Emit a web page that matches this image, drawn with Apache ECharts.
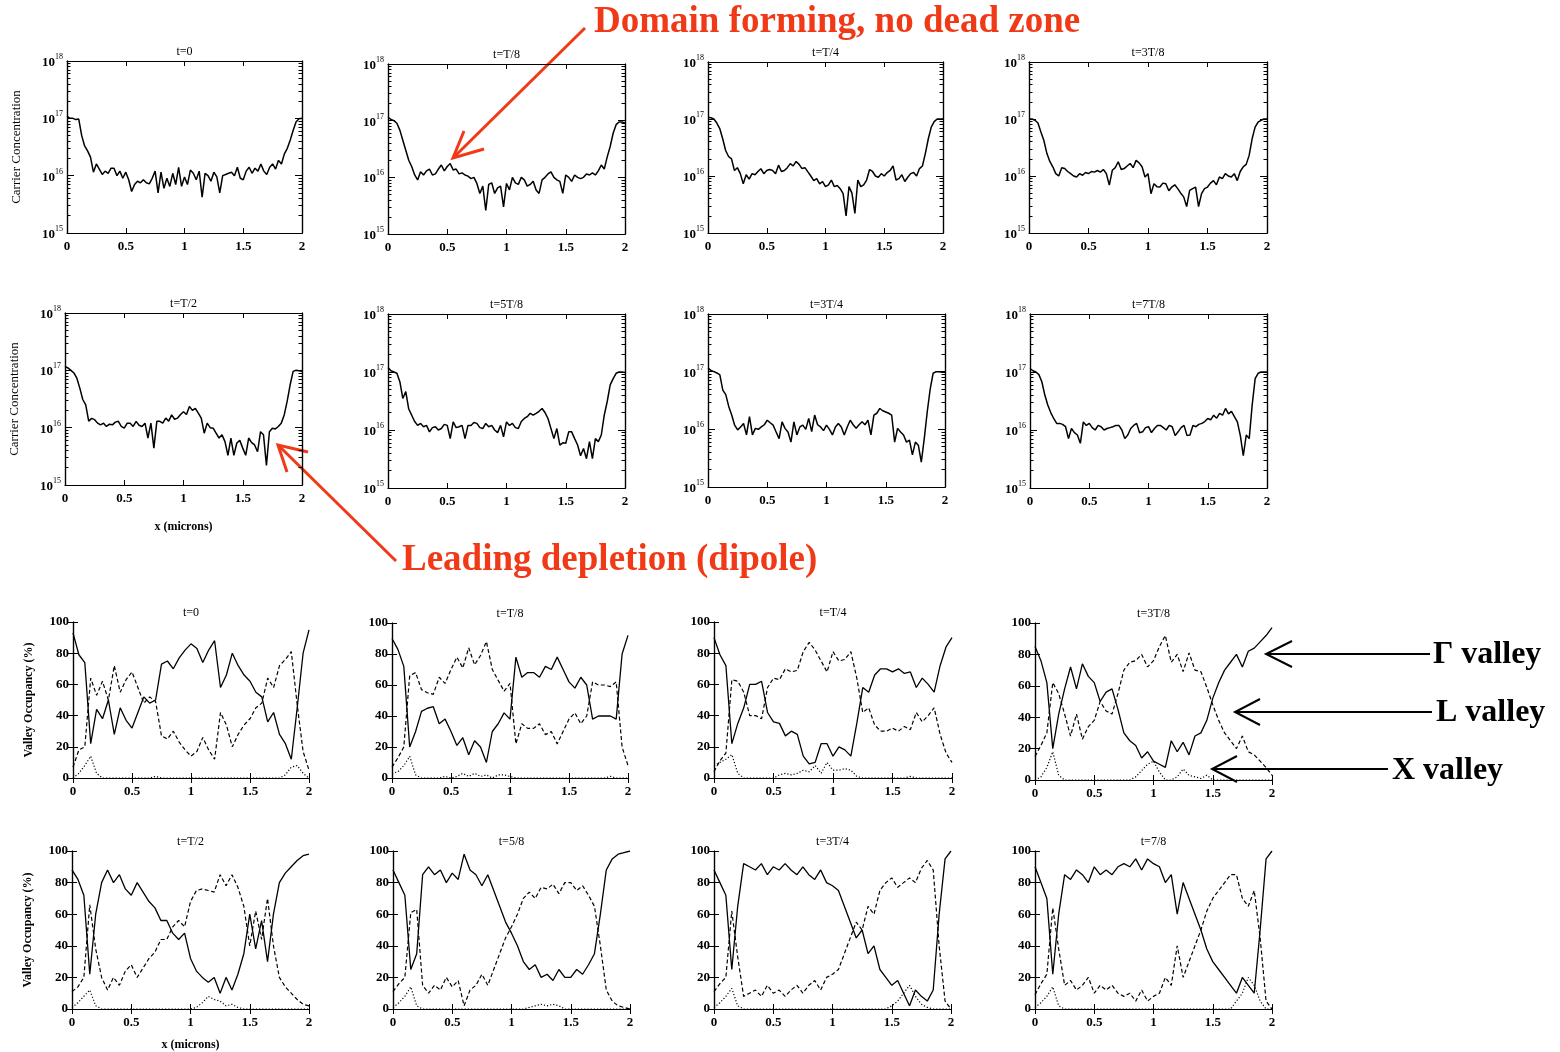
<!DOCTYPE html>
<html>
<head>
<meta charset="utf-8">
<script src="https://cdn.jsdelivr.net/npm/echarts@6/dist/echarts.min.js"></script>
<style>
  html, body { margin: 0; background: #fff; }
  #chart { width: 1560px; height: 1052px; }
</style>
</head>
<body>
<div id="chart"></div>
<script>
const F = '"Liberation Serif", "Times New Roman", serif';
const RED = '#f03a17';

// x positions (microns)
const xsC = [0,0.025,0.05,0.075,0.1,0.125,0.15,0.175,0.2,0.225,
  0.25,0.275,0.3,0.325,0.35,0.375,0.4,0.425,0.45,0.475,
  0.5,0.525,0.55,0.575,0.6,0.625,0.65,0.675,0.7,0.725,
  0.75,0.775,0.8,0.825,0.85,0.875,0.9,0.925,0.95,0.975,
  1,1.025,1.05,1.075,1.1,1.125,1.15,1.175,1.2,1.225,
  1.25,1.275,1.3,1.325,1.35,1.375,1.4,1.425,1.45,1.475,
  1.5,1.525,1.55,1.575,1.6,1.625,1.65,1.675,1.7,1.725,
  1.75,1.775,1.8,1.825,1.85,1.875,1.9,1.925,1.95,1.975,2];
const xsV = [0,0.05,0.1,0.15,0.2,0.25,0.3,0.35,0.4,0.45,
  0.5,0.55,0.6,0.65,0.7,0.75,0.8,0.85,0.9,0.95,
  1,1.05,1.1,1.15,1.2,1.25,1.3,1.35,1.4,1.45,
  1.5,1.55,1.6,1.65,1.7,1.75,1.8,1.85,1.9,1.95,2];

const carrierTitles = ['t=0', 't=T/8', 't=T/4', 't=3T/8', 't=T/2', 't=5T/8', 't=3T/4', 't=7T/8'];
const valleyTitles = ['t=0', 't=T/8', 't=T/4', 't=3T/8', 't=T/2', 't=5/8', 't=3T/4', 't=7/8'];
const carrierExps = [15, 16, 17, 18];

// carrier concentration, units of 1e15
const cT0 = [110,100,100,95,97,50,33,27,21,11.5, 16,13,10.5,12,11,13.5,13.5,10,12,9,
  11.5,8.5,5.3,7,8,7.5,8.5,7.5,7.2,9, 12,5,11.5,6,9,6.5,11,7,14,6.5,
  9.5,7,12.5,11,8.5,12,4.2,11,10,8, 11.5,9.5,5,10,10.5,11,11.5,10,14,9,
  8.5,12,14,11,13.5,12,16,12,10.5,14, 16,13,18.5,16,24,30,42,62,87,98, 100];
const cT8 = [115,105,100,90,68,45,30,20,15.5,11, 9,12.5,11,13,14,11,11.5,14,16.5,13,
  15.5,17.5,13.5,14,11.5,12,11,10.5,9.5,10, 7.8,5.2,7,2.6,7.5,8,5.2,6.5,7,3,
  7.8,6,10,8,7.5,10,9,7,7.5,8.5, 6,5.2,9,10,11.5,12.5,10,9,8.5,5.2,
  11,10,8.5,11,10,9.5,10,11.5,11,12, 11,13,16.5,14,23,35,60,85,95,95, 90];
const cT4 = [107,105,100,85,68,45,28,22,20,12.5, 14,11,7.3,10.5,8.8,11,10.5,12,13.4,11,
  12.5,13,12.5,11,15.5,12,12.5,14,16.5,15, 18,16,13.5,14,11.8,10,8.3,9,7.3,8,
  6.5,7,8.5,6.5,6.8,6,4.9,2.0,6.5,5, 2.2,8.5,6.5,7,8.5,13,12,10,9.5,11,
  10,11.5,12.5,15,8.5,9,10.5,8,9.5,11, 11.5,10,13.5,15,25,45,72,90,100,100, 100];
const c3T8 = [100,100,95,85,59,42,25,18,14.5,11, 10,14,13.5,12,11,10,9.6,11,10.3,11.5,
  11,12,11.7,12.5,11.7,13,11,6.9,12.6,14, 17.8,13,13.5,15,16.6,14,18.8,17,14.5,9.6,
  11,4.9,7.3,6.5,6.4,7.5,7.3,5.5,6.4,7, 6,5,4.3,2.9,5.6,6,6.4,2.9,4.9,6,
  6.4,7.5,8.3,7,9.6,9,11,10,9.6,11, 8.3,12,14.5,16,23,45,72,88,95,100, 100];
const cT2 = [117,110,100,90,73,49,31,25,13,14.5, 13.8,12,11.2,12,10.5,11.5,11.2,12.5,12.9,10.5,
  9.8,12,12,10.5,12.9,11,10.5,12,6.6,12, 4.4,12.9,12.9,12,14.7,13,16.7,14,14.7,17,
  19,17,23.5,20,21.7,18,14.7,8,12,10, 9.8,8,6.6,7.5,5.7,3.3,6.6,3.3,5.4,6,
  4.4,3.3,6.6,5.5,5,3.8,8.5,7.5,2.2,8.5, 9.8,9.5,10.5,12,16.7,29,56,96,100,98, 96];
const c5T8 = [120,105,100,95,68,35,46,23,18,14, 12,13,11.4,12,9.3,11,11.4,10,10.6,12.5,
  12,7.1,13.8,11,11.4,12,7.1,12,12,13.5, 13,11,10.6,13,11.4,12,10,9,12,7.6,
  13.8,12,13,11,10.6,14,15.8,17,19.4,18, 19.4,21,23.5,20,15.8,10.6,7.1,10.6,5.5,6,
  5.9,9.3,9.3,7.1,5.5,3.6,4.8,3.2,6.3,3.2, 7.1,6.3,8.2,18,31,60,77,95,100,100, 98];
const c3T4 = [115,105,100,95,88,48,40,25,17.7,11.8, 9.8,11,12.6,8,16.6,8,10.4,10,11,12,
  14.4,13,11.8,9,6.9,13.5,10.4,9,6,13.5, 8,11,11.8,10,15.5,9.1,17.7,12,11,9.5,
  11.8,10,8,11,12.6,11,8,11,14.4,12, 10.4,12,13.5,12,14.4,8,17.7,19,23,21,
  20,19,17.7,6,10.4,9,8,6,6.5,3.6, 6,5.3,2.7,6.9,20,50,94,100,100,98, 98];
const c7T8 = [115,105,100,90,68,40,27,20,15.8,13, 13,12.5,11.4,7.1,10.6,9,8.2,5.9,13.8,12,
  13,11,10,12,11.4,10,10.6,11,11.4,12, 12,10,7.1,8.2,10.6,12,13,9,9.3,11,
  11.4,9,10.6,12,12,11,10,12,11.4,8, 9.3,11,12,8,8.2,12,11.4,12.5,13,14,
  15.8,15,18,16,19.4,18,23.5,19,21,17, 13.8,8,3.6,8.2,7.1,27,77,95,100,100, 100];
const carrierSets = [cT0, cT8, cT4, c3T8, cT2, c5T8, c3T4, c7T8];

// valley occupancy (%): Gamma (solid), L (dashed), X (dotted)
const gT0 = [93,79,74,22,44,38,50,28,45,37, 32,42,52,48,50,73,75,70,77,82, 86,83,74,82,88,58,66,80,72,66, 62,55,52,36,42,28,22,12,45,80, 95];
const lT0 = [7,18,20,64,53,62,50,72,55,63, 68,58,48,52,49,27,25,30,23,18, 14,17,26,18,12,42,34,20,28,34, 38,45,48,64,58,72,76,81,47,17, 5];
const xT0 = [0,3,8,14,3,0,0,0,0,0, 0,0,0,0,1,0,0,0,0,0, 0,0,0,0,0,0,0,0,0,0, 0,0,0,0,0,0,2,7,8,3, 0];
const gT8 = [90,83,72,20,30,43,45,46,35,38, 30,21,26,15,24,20,10,30,35,42, 38,78,65,68,68,65,72,70,78,70, 62,58,65,60,38,40,40,40,38,80, 92];
const lT8 = [7,13,20,66,68,57,55,54,65,61, 70,78,71,84,73,79,88,70,63,56, 61,22,35,32,32,35,28,30,22,30, 38,42,35,40,62,60,60,59,62,20, 8];
const xT8 = [3,4,8,14,2,0,0,0,0,1, 0,1,3,1,3,1,2,0,2,2, 1,0,0,0,0,0,0,0,0,0, 0,0,0,0,0,0,0,1,0,0, 0];
const gT4 = [90,79,72,22,35,45,60,60,62,42, 36,35,27,30,28,14,9,10,22,22, 14,20,18,14,35,58,55,66,70,70, 68,70,67,68,58,64,60,55,72,84, 90];
const lT4 = [4,11,16,63,62,55,40,40,38,58, 64,63,70,68,69,81,87,82,75,68, 81,75,76,81,64,42,45,34,30,30, 32,30,33,31,42,36,40,45,28,16, 10];
const xT4 = [8,10,12,15,3,0,0,0,0,0, 0,2,3,2,3,5,4,8,3,10, 5,5,6,5,1,0,0,0,0,0, 0,0,0,1,0,0,0,0,0,0, 0];
const g3T8 = [85,76,62,20,42,58,72,58,74,66, 62,50,56,58,45,30,25,22,14,18, 12,10,8,25,18,24,16,28,30,38, 52,62,70,75,80,72,82,84,88,92, 97];
const l3T8 = [15,22,30,62,55,42,28,42,26,34, 38,50,44,42,55,70,75,76,80,72, 76,85,92,75,80,69,81,70,69,59, 48,38,30,25,20,28,18,16,12,8, 3];
const x3T8 = [0,2,8,18,3,0,0,0,0,0, 0,0,0,0,0,0,0,2,6,10, 12,5,0,0,2,7,3,2,1,3, 0,0,0,0,0,0,0,0,0,0, 0];
const gT2 = [88,82,72,22,60,80,88,80,85,76, 72,80,74,68,64,56,56,48,44,48, 32,24,20,17,20,10,20,12,22,35, 60,38,56,30,60,80,86,90,94,97, 98];
const lT2 = [11,14,20,66,38,20,12,20,15,24, 28,20,26,32,36,44,44,52,56,52, 68,75,76,75,74,85,78,85,77,65, 40,62,44,70,40,20,14,10,6,3, 2];
const xT2 = [1,4,8,12,2,0,0,0,0,0, 0,0,0,0,0,0,0,0,0,0, 0,1,4,8,6,5,2,3,1,0, 0,0,0,0,0,0,0,0,0,0, 0];
const g5T8 = [88,80,72,25,35,85,90,85,88,80, 86,82,98,88,85,78,85,75,65,55, 48,40,30,25,28,20,22,18,25,20, 20,25,22,28,35,60,88,95,98,99, 100];
const l5T8 = [11,16,20,61,63,15,10,15,12,20, 14,18,2,12,15,22,15,25,35,45, 52,60,70,74,70,77,76,79,73,80, 80,75,78,72,65,40,12,5,2,1, 0];
const x5T8 = [1,4,8,14,2,0,0,0,0,0, 0,0,0,0,0,0,0,0,0,0, 0,0,0,1,2,3,2,3,2,0, 0,0,0,0,0,0,0,0,0,0, 0];
const g3T4 = [88,80,72,25,65,92,90,88,92,85, 90,88,92,88,85,90,85,82,88,80, 78,75,65,55,45,50,35,40,25,20, 15,18,10,2,12,8,5,12,60,95, 100];
const l3T4 = [11,16,20,62,33,8,10,12,8,15, 10,12,8,12,15,10,15,18,12,20, 22,25,35,45,55,50,65,60,75,80, 83,77,80,83,80,89,94,88,40,5, 0];
const x3T4 = [1,4,8,13,2,0,0,0,0,0, 0,0,0,0,0,0,0,0,0,0, 0,0,0,0,0,0,0,0,0,0, 2,5,10,15,8,3,1,0,0,0, 0];
const g7T8 = [90,80,70,22,60,85,82,88,85,80, 90,85,88,85,90,92,90,95,88,95, 92,90,80,85,60,80,70,60,50,38, 30,25,20,15,10,20,15,10,50,95, 100];
const l7T8 = [9,16,22,64,38,15,18,12,15,20, 10,15,12,15,10,8,10,5,12,5, 8,10,20,15,40,20,30,40,50,62, 70,75,80,85,85,70,65,75,45,5, 0];
const x7T8 = [1,4,8,14,2,0,0,0,0,0, 0,0,0,0,0,0,0,0,0,0, 0,0,0,0,0,0,0,0,0,0, 0,0,0,0,5,10,20,15,5,0, 0];
const gammaSets = [gT0, gT8, gT4, g3T8, gT2, g5T8, g3T4, g7T8];
const lSets = [lT0, lT8, lT4, l3T8, lT2, l5T8, l3T4, l7T8];
const xSets = [xT0, xT8, xT4, x3T8, xT2, x5T8, x3T4, x7T8];

// plot boxes [left, top, width, height]
const boxesC = [[67,61,235,172],[388,64,237,170],[708,62,235,171],[1029,62,238,171],
  [65,313,237,172],[388,314,237,174],[708,314,237,173],[1030,314,237,174]];
const boxesV = [[73,622,236,156],[392,623,236,155],[714,622,238,156],[1035,623,237,157],
  [72,851,237,158],[393,851,237,158],[714,851,237,158],[1035,851,237,158]];

const chart = echarts.init(document.getElementById('chart'));
const option = { animation: false, backgroundColor: '#fff', grid: [], xAxis: [], yAxis: [], series: [], title: [] };

const axisLine = { show: true, lineStyle: { color: '#000', width: 1.2 } };
const tickLine = { color: '#000', width: 1 };
const lab = { color: '#000', fontFamily: F, fontSize: 13, fontWeight: 'bold' };
const nameStyle = { color: '#000', fontFamily: F, fontSize: 13 };

// decade positions; the top one is nudged just inside the extent so it is not dropped
const decades = carrierExps.map((e, i) => Math.pow(10, e) * (i === carrierExps.length - 1 ? 0.99999 : 1));
const minors = [];
carrierExps.slice(0, 3).forEach(e => { for (let m = 2; m <= 9; m++) minors.push(m * Math.pow(10, e)); });

function addGrid(b, title) {
  option.grid.push({ left: b[0], top: b[1], width: b[2], height: b[3] });
  option.title.push({
    text: title, left: b[0] + b[2] / 2, top: b[1] - 15, textAlign: 'center', padding: 0,
    textStyle: { fontFamily: F, fontSize: 12, fontWeight: 'normal', color: '#000' }
  });
  return option.grid.length - 1;
}

function addX(gi, pos, showLab, name, gap) {
  option.xAxis.push({
    gridIndex: gi, type: 'value', min: 0, max: 2, interval: 0.5, position: pos,
    axisLine, splitLine: { show: false },
    axisTick: { show: true, inside: true, length: 5, lineStyle: tickLine },
    axisLabel: Object.assign({ show: showLab, margin: 7 }, lab),
    name: name || '', nameLocation: 'middle', nameGap: gap || 30,
    nameTextStyle: Object.assign({}, nameStyle, { fontWeight: 'bold', fontSize: 12 })
  });
  return option.xAxis.length - 1;
}

function addLogY(gi, pos, values, len, showLab, name) {
  option.yAxis.push({
    gridIndex: gi, type: 'log', logBase: 10, min: 1e15, max: 1e18, position: pos,
    axisLine, splitLine: { show: false },
    axisTick: { show: true, inside: true, length: len, lineStyle: tickLine, customValues: values },
    axisLabel: {
      show: showLab, margin: 4, customValues: decades,
      formatter: v => '{b|10}{s|' + Math.round(Math.log10(v)) + '}',
      rich: {
        b: { fontFamily: F, fontSize: 13, fontWeight: 'bold', color: '#000', verticalAlign: 'bottom', lineHeight: 16 },
        s: { fontFamily: F, fontSize: 8, color: '#000', verticalAlign: 'top', lineHeight: 16 }
      }
    },
    name: name || '', nameLocation: 'middle', nameGap: 44, nameRotate: 90, nameTextStyle: nameStyle
  });
  return option.yAxis.length - 1;
}

function addValY(gi, pos, showLab, name) {
  option.yAxis.push({
    gridIndex: gi, type: 'value', min: 0, max: 100, interval: 20, position: pos,
    axisLine, splitLine: { show: false },
    axisTick: { show: true, inside: true, length: 5, lineStyle: tickLine },
    axisLabel: Object.assign({ show: showLab, margin: 4 }, lab),
    name: name || '', nameLocation: 'middle', nameGap: 38, nameRotate: 90,
    nameTextStyle: Object.assign({}, nameStyle, { fontWeight: 'bold', fontSize: 12 })
  });
  return option.yAxis.length - 1;
}

function line(xi, yi, data, type, width) {
  option.series.push({
    type: 'line', xAxisIndex: xi, yAxisIndex: yi, data, symbol: 'none', silent: true,
    lineStyle: { color: '#000', width: width, type: type }
  });
}

// carrier concentration panels
boxesC.forEach((b, k) => {
  const gi = addGrid(b, carrierTitles[k]);
  const xi = addX(gi, 'bottom', true, k === 4 ? 'x (microns)' : '', 36);
  addX(gi, 'top', false);
  const yName = (k === 0 || k === 4) ? 'Carrier Concentration' : '';
  const yi = addLogY(gi, 'left', decades, 7, true, yName);
  addLogY(gi, 'left', minors, 3.5, false);
  addLogY(gi, 'right', decades, 7, false);
  addLogY(gi, 'right', minors, 3.5, false);
  line(xi, yi, xsC.map((x, i) => [x, carrierSets[k][i] * 1e15]), 'solid', 1.5);
});

// valley occupancy panels
boxesV.forEach((b, k) => {
  const gi = addGrid(b, valleyTitles[k]);
  const xi = addX(gi, 'bottom', true, k === 4 ? 'x (microns)' : '', 30);
  addX(gi, 'top', false);
  const yName = (k === 0 || k === 4) ? 'Valley Occupancy (%)' : '';
  const yi = addValY(gi, 'left', true, yName);
  addValY(gi, 'right', false);
  line(xi, yi, xsV.map((x, i) => [x, gammaSets[k][i]]), 'solid', 1.3);
  line(xi, yi, xsV.map((x, i) => [x, lSets[k][i]]), [4, 2.5], 1.2);
  line(xi, yi, xsV.map((x, i) => [x, xSets[k][i]]), [1.2, 2], 1.2);
});

// annotations
function arrow(tail, tip, a1, a2, color, w) {
  return [
    { type: 'polyline', silent: true, shape: { points: [tail, tip] }, style: { stroke: color, lineWidth: w, fill: null } },
    { type: 'polyline', silent: true, shape: { points: [a1, tip, a2] }, style: { stroke: color, lineWidth: w, fill: null } }
  ];
}
function label(text, x, y, color) {
  return { type: 'text', silent: true, x: x, y: y,
    style: { text: text, fill: color, font: 'bold 32px "Liberation Serif", serif', textVerticalAlign: 'middle' } };
}
option.graphic = [].concat(
  [{ type: 'text', silent: true, x: 594, y: 22,
     style: { text: 'Domain forming, no dead zone', fill: RED, font: 'bold 37px "Liberation Serif", serif', textVerticalAlign: 'middle' } }],
  arrow([585, 28], [453, 158], [464, 131], [484, 149], RED, 3),
  [{ type: 'text', silent: true, x: 402, y: 560,
     style: { text: 'Leading depletion (dipole)', fill: RED, font: 'bold 37px "Liberation Serif", serif', textVerticalAlign: 'middle' } }],
  arrow([396, 561], [278, 445], [287, 472], [308, 452], RED, 3),
  [label('Γ valley', 1433, 655, '#000'), label('L valley', 1436, 713, '#000'), label('X valley', 1392, 771, '#000')],
  arrow([1430, 654], [1266, 654], [1292, 641], [1292, 667], '#000', 2),
  arrow([1432, 712], [1235, 712], [1260, 699], [1260, 725], '#000', 2),
  arrow([1388, 769], [1212, 769], [1237, 756], [1237, 782], '#000', 2)
);

chart.setOption(option);
</script>
</body>
</html>
